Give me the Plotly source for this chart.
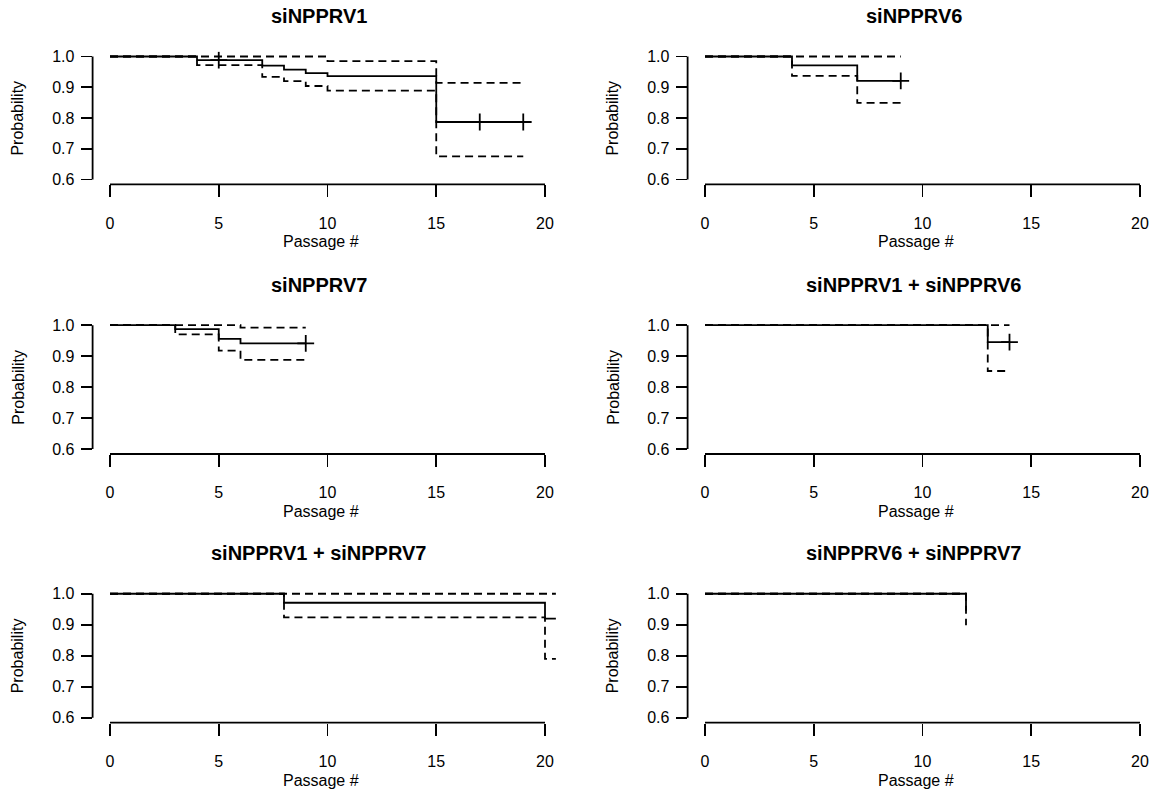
import plotly.graph_objects as go

# ---------------- data ----------------
panel_titles = ["siNPPRV1", "siNPPRV6", "siNPPRV7",
                "siNPPRV1 + siNPPRV6", "siNPPRV1 + siNPPRV7", "siNPPRV6 + siNPPRV7"]

# siNPPRV1
p1_time = [0, 4, 7, 8, 9, 10, 15, 19]
p1_surv = [1.0, 0.988, 0.970, 0.957, 0.946, 0.936, 0.787, 0.787]
p1_upper = [1.0, 1.0, 1.0, 1.0, 1.0, 0.985, 0.914, 0.914]
p1_lower = [1.0, 0.972, 0.934, 0.920, 0.904, 0.889, 0.675, 0.675]
p1_cens_t = [5, 17, 19]
p1_cens_s = [0.988, 0.787, 0.787]

# siNPPRV6
p2_time = [0, 4, 7, 9]
p2_surv = [1.0, 0.971, 0.921, 0.921]
p2_upper = [1.0, 1.0, 1.0, 1.0]
p2_lower = [1.0, 0.937, 0.849, 0.849]
p2_cens_t = [9]
p2_cens_s = [0.921]

# siNPPRV7
p3_time = [0, 3, 5, 6, 9]
p3_surv = [1.0, 0.987, 0.956, 0.941, 0.941]
p3_upper = [1.0, 1.0, 1.0, 0.992, 0.992]
p3_lower = [1.0, 0.970, 0.918, 0.888, 0.888]
p3_cens_t = [9]
p3_cens_s = [0.941]

# siNPPRV1 + siNPPRV6
p4_time = [0, 13, 14]
p4_surv = [1.0, 0.945, 0.945]
p4_upper = [1.0, 1.0, 1.0]
p4_lower = [1.0, 0.852, 0.852]
p4_cens_t = [14]
p4_cens_s = [0.945]

# siNPPRV1 + siNPPRV7
p5_time = [0, 8, 20, 20.5]
p5_surv = [1.0, 0.971, 0.920, 0.920]
p5_upper = [1.0, 1.0, 1.0, 1.0]
p5_lower = [1.0, 0.924, 0.790, 0.790]
p5_cens_t = []
p5_cens_s = []

# siNPPRV6 + siNPPRV7
p6_time = [0, 12]
p6_surv = [1.0, 0.945]
p6_upper = [1.0, 1.0]
p6_lower = [1.0, 0.898]
p6_cens_t = []
p6_cens_s = []

x_tick_vals = [0, 5, 10, 15, 20]
y_tick_vals = [0.6, 0.7, 0.8, 0.9, 1.0]
y_tick_text = ["0.6", "0.7", "0.8", "0.9", "1.0"]
x_title = "Passage #"
y_title = "Probability"

panels = [
    (p1_time, p1_surv, p1_upper, p1_lower, p1_cens_t, p1_cens_s),
    (p2_time, p2_surv, p2_upper, p2_lower, p2_cens_t, p2_cens_s),
    (p3_time, p3_surv, p3_upper, p3_lower, p3_cens_t, p3_cens_s),
    (p4_time, p4_surv, p4_upper, p4_lower, p4_cens_t, p4_cens_s),
    (p5_time, p5_surv, p5_upper, p5_lower, p5_cens_t, p5_cens_s),
    (p6_time, p6_surv, p6_upper, p6_lower, p6_cens_t, p6_cens_s),
]

# ---------------- layout geometry ----------------
W, H = 1167, 797
col_left_px = [92.6, 687.6]
col_right_px = [562.4, 1157.4]
row_top_px = [49, 320, 591]
row_bot_px = [183, 455, 726]

FONT = "Liberation Sans, Arial, Helvetica, sans-serif"
LW = 1.8

fig = go.Figure()
layout = dict(
    width=W, height=H,
    margin=dict(l=0, r=0, t=0, b=0),
    paper_bgcolor="white", plot_bgcolor="white",
    showlegend=False,
    font=dict(family=FONT, size=16, color="black"),
)
shapes = []
annotations = []

for i, (t, s, up, lo, ct, cs) in enumerate(panels):
    k = i + 1
    row, col = i // 2, i % 2
    xa = "x" if k == 1 else f"x{k}"
    ya = "y" if k == 1 else f"y{k}"
    xkey = "xaxis" if k == 1 else f"xaxis{k}"
    ykey = "yaxis" if k == 1 else f"yaxis{k}"

    for band in (up, lo):
        fig.add_trace(go.Scatter(
            x=t, y=band, mode="lines", xaxis=xa, yaxis=ya,
            line=dict(color="black", width=LW, dash="8px,5px", shape="hv"),
            hoverinfo="skip"))
    fig.add_trace(go.Scatter(
        x=t, y=s, mode="lines", xaxis=xa, yaxis=ya,
        line=dict(color="black", width=LW, shape="hv"), hoverinfo="skip"))
    if ct:
        fig.add_trace(go.Scatter(
            x=ct, y=cs, mode="markers", xaxis=xa, yaxis=ya,
            marker=dict(symbol="cross-thin", size=12, color="black",
                        line=dict(color="black", width=LW)),
            hoverinfo="skip"))

    x0 = col_left_px[col] / W
    x1 = col_right_px[col] / W
    y0 = 1 - row_bot_px[row] / H
    y1 = 1 - row_top_px[row] / H

    layout[xkey] = dict(
        domain=[x0, x1], range=[-0.8, 20.8], anchor=ya,
        showgrid=False, zeroline=False, showline=False,
        ticks="outside", ticklen=12, tickwidth=LW, tickcolor="black",
        tickvals=x_tick_vals, ticklabelstandoff=12,
        tickfont=dict(family=FONT, size=16, color="black"),
        fixedrange=True)
    layout[ykey] = dict(
        domain=[y0, y1], range=[0.584, 1.016], anchor=xa,
        showgrid=False, zeroline=False, showline=False,
        ticks="outside", ticklen=11, tickwidth=LW, tickcolor="black",
        tickvals=y_tick_vals, ticktext=y_tick_text, ticklabelstandoff=3,
        tickfont=dict(family=FONT, size=16, color="black"),
        fixedrange=True)

    # R-style axis lines spanning first to last tick
    shapes.append(dict(type="line", xref=xa, yref=f"{ya} domain",
                       x0=x_tick_vals[0], x1=x_tick_vals[-1], y0=0, y1=0,
                       line=dict(color="black", width=LW)))
    shapes.append(dict(type="line", xref=f"{xa} domain", yref=ya,
                       x0=0, x1=0, y0=y_tick_vals[0], y1=y_tick_vals[-1],
                       line=dict(color="black", width=LW)))

    # panel title
    annotations.append(dict(
        text=f"<b>{panel_titles[i]}</b>", xref=xa, x=9.6,
        yref="paper", y=1 - (row_top_px[row] - 36) / H,
        xanchor="center", yanchor="middle", showarrow=False,
        font=dict(family=FONT, size=20, color="black")))
    # x axis title
    annotations.append(dict(
        text=x_title, xref=xa, x=9.7,
        yref="paper", y=1 - (row_bot_px[row] + 58) / H,
        xanchor="center", yanchor="middle", showarrow=False,
        font=dict(family=FONT, size=16, color="black")))
    # y axis title
    annotations.append(dict(
        text=y_title, textangle=-90, xref="paper",
        x=(col_left_px[col] - 75) / W, yref=ya, y=0.8,
        xanchor="center", yanchor="middle", showarrow=False,
        font=dict(family=FONT, size=16, color="black")))

layout["shapes"] = shapes
layout["annotations"] = annotations
fig.update_layout(**layout)
fig.write_html(
    "out.html",
    config={"displayModeBar": False, "staticPlot": True},
    post_script="document.documentElement.style.margin='0';"
                "document.body.style.margin='0';"
                "document.body.style.overflow='hidden';")
